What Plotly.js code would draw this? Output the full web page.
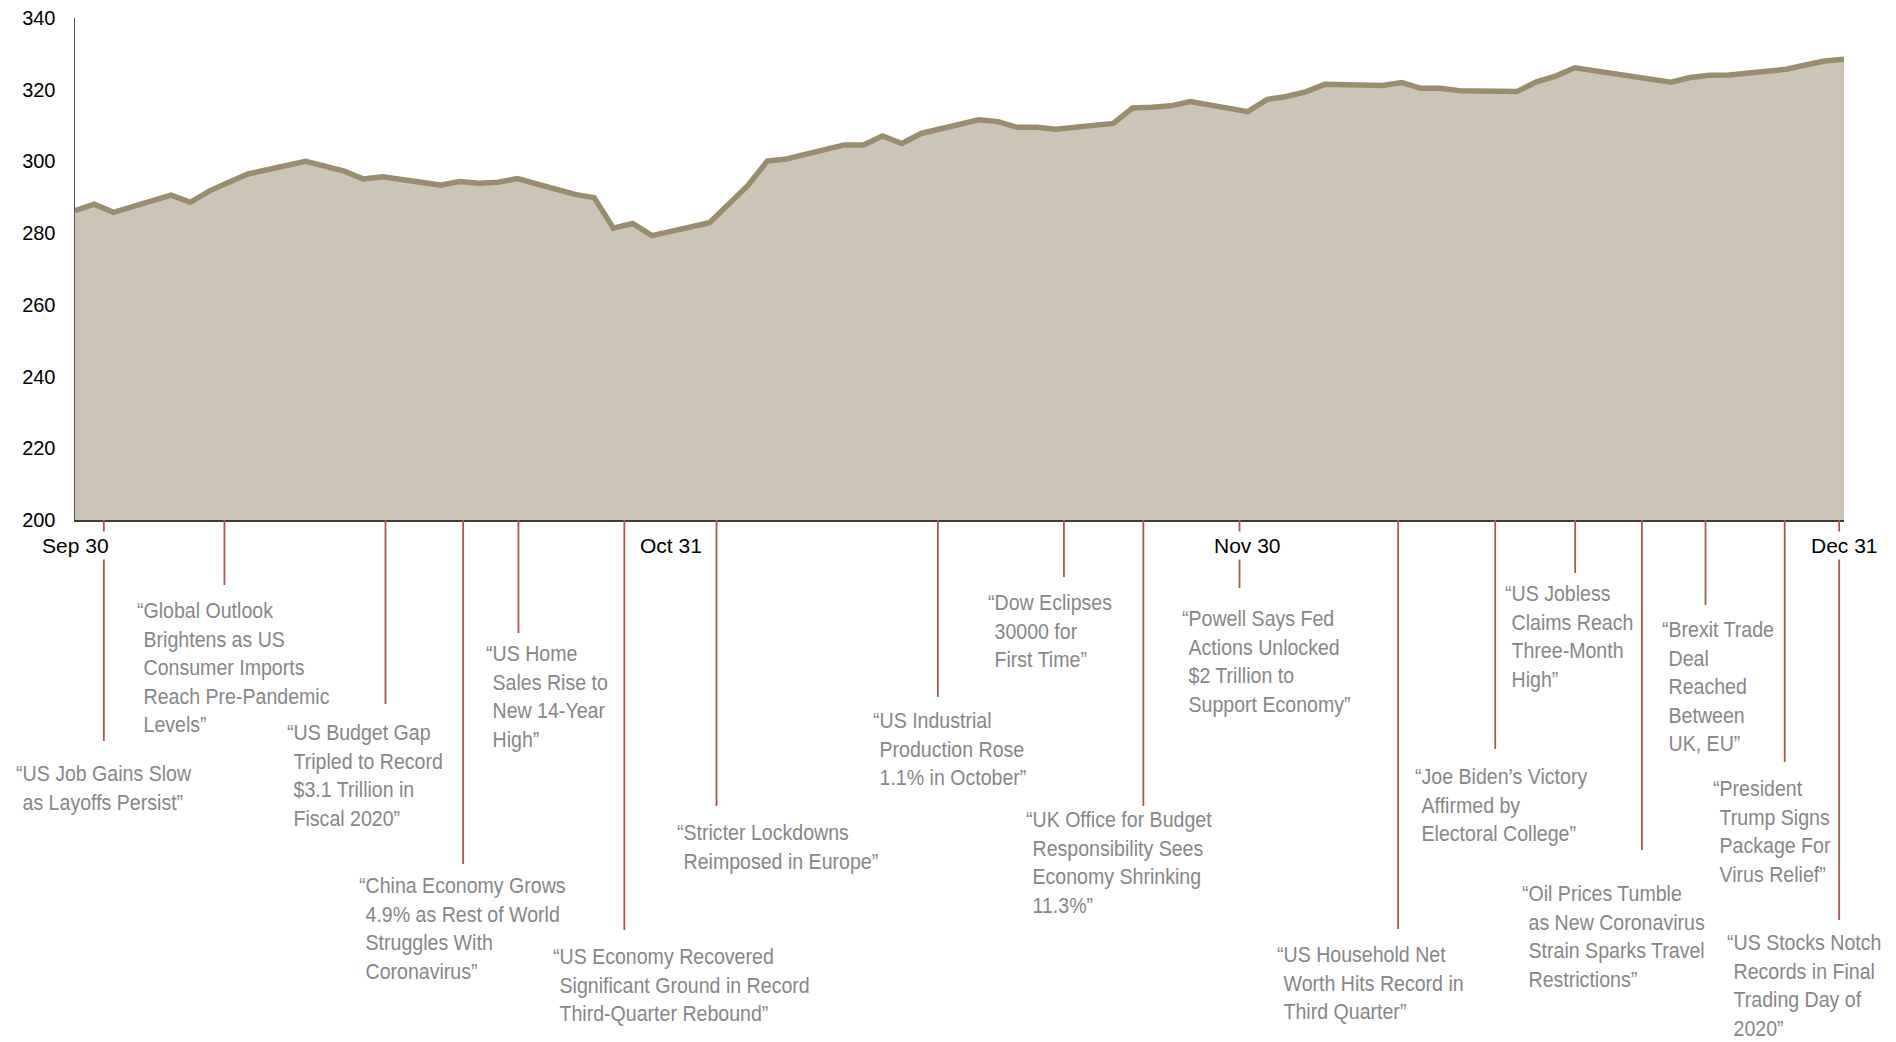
<!DOCTYPE html>
<html>
<head>
<meta charset="utf-8">
<script src="https://cdn.plot.ly/plotly-3.0.1.min.js"></script>
<style>
	html, body { margin: 0; padding: 0; background: #ffffff; }
	#chart { width: 1896px; height: 1042px; }
</style>
</head>
<body>
<div id="chart"></div>
<script>
// Index level, every weekday from Sep 30 to Dec 31 2020
let dates = [
	'2020-09-30',
	'2020-10-01', '2020-10-02', '2020-10-05', '2020-10-06', '2020-10-07', '2020-10-08', '2020-10-09',
	'2020-10-12', '2020-10-13', '2020-10-14', '2020-10-15', '2020-10-16', '2020-10-19', '2020-10-20',
	'2020-10-21', '2020-10-22', '2020-10-23', '2020-10-26', '2020-10-27', '2020-10-28', '2020-10-29',
	'2020-10-30',
	'2020-11-02', '2020-11-03', '2020-11-04', '2020-11-05', '2020-11-06', '2020-11-09', '2020-11-10',
	'2020-11-11', '2020-11-12', '2020-11-13', '2020-11-16', '2020-11-17', '2020-11-18', '2020-11-19',
	'2020-11-20', '2020-11-23', '2020-11-24', '2020-11-25', '2020-11-26', '2020-11-27', '2020-11-30',
	'2020-12-01', '2020-12-02', '2020-12-03', '2020-12-04', '2020-12-07', '2020-12-08', '2020-12-09',
	'2020-12-10', '2020-12-11', '2020-12-14', '2020-12-15', '2020-12-16', '2020-12-17', '2020-12-18',
	'2020-12-21', '2020-12-22', '2020-12-23', '2020-12-24', '2020-12-25', '2020-12-28', '2020-12-29',
	'2020-12-30', '2020-12-31'
]
let levels = [
	286.3,
	288.1, 285.8, 290.6, 288.6, 291.8, 294.2, 296.5,
	300.0, 298.7, 297.3, 295.1, 295.7, 293.4, 294.4,
	293.9, 294.2, 295.2, 290.8, 289.9, 281.4, 282.7,
	279.3,
	282.9, 288.1, 293.3, 300.1, 300.7, 304.6, 304.6,
	307.1, 305.0, 307.8, 311.6, 311.1, 309.5, 309.5,
	309.0, 310.6, 314.9, 315.1, 315.5, 316.7, 313.9,
	317.3, 318.1, 319.4, 321.5, 321.2, 322.0, 320.4,
	320.4, 319.7, 319.5, 322.2, 323.8, 326.1, 325.3,
	322.8, 322.1, 323.4, 324.0, 324.1, 325.7, 326.9,
	328.0, 328.5
]

// x axis labels
let tick_dates = ['2020-09-30', '2020-10-31', '2020-11-30', '2020-12-31']
let tick_labels = ['Sep 30', 'Oct 31', 'Nov 30', 'Dec 31']
let y_ticks = [200, 220, 240, 260, 280, 300, 320, 340]

// Headlines and where their marker lines sit on the time axis
let event_dates = [
	'2020-10-01 12:00', '2020-10-07 18:30', '2020-10-16 03:30', '2020-10-20 04:30',
	'2020-10-23 01:30', '2020-10-28 13:40', '2020-11-02 08:40', '2020-11-13 21:00',
	'2020-11-20 10:20', '2020-11-24 13:30', '2020-11-29 13:30', '2020-12-07 19:30',
	'2020-12-12 20:40', '2020-12-17 00:30', '2020-12-20 11:45', '2020-12-23 19:10',
	'2020-12-27 22:00', '2020-12-30 18:00'
]
let event_headlines = [
	['US Job Gains Slow', 'as Layoffs Persist'],
	['Global Outlook', 'Brightens as US', 'Consumer Imports', 'Reach Pre-Pandemic', 'Levels'],
	['US Budget Gap', 'Tripled to Record', '$3.1 Trillion in', 'Fiscal 2020'],
	['China Economy Grows', '4.9% as Rest of World', 'Struggles With', 'Coronavirus'],
	['US Home', 'Sales Rise to', 'New 14-Year', 'High'],
	['US Economy Recovered', 'Significant Ground in Record', 'Third-Quarter Rebound'],
	['Stricter Lockdowns', 'Reimposed in Europe'],
	['US Industrial', 'Production Rose', '1.1% in October'],
	['Dow Eclipses', '30000 for', 'First Time'],
	['UK Office for Budget', 'Responsibility Sees', 'Economy Shrinking', '11.3%'],
	['Powell Says Fed', 'Actions Unlocked', '$2 Trillion to', 'Support Economy'],
	['US Household Net', 'Worth Hits Record in', 'Third Quarter'],
	['Joe Biden\u2019s Victory', 'Affirmed by', 'Electoral College'],
	['US Jobless', 'Claims Reach', 'Three-Month', 'High'],
	['Oil Prices Tumble', 'as New Coronavirus', 'Strain Sparks Travel', 'Restrictions'],
	['Brexit Trade', 'Deal', 'Reached', 'Between', 'UK, EU'],
	['President', 'Trump Signs', 'Package For', 'Virus Relief'],
	['US Stocks Notch', 'Records in Final', 'Trading Day of', '2020']
]

// layout of the headline blocks (pixels below the axis / from the marker line)
let plot_h = 502
let line_drop = [221, 65, 184, 344, 113, 410, 286, 177, 57, 286, 68, 409, 229, 53, 330, 85, 242, 400]
let text_dx = [-90, -89, -100, -106, -34, -73, -41, -67, -78, -119, -60, -123, -82, -72, -122, -46, -74, -114]
let text_dy = [-239, -76, -198, -351, -119, -422, -298, -186, -68, -285, -84, -420, -242, -59, -359, -95, -254, -408]

let narrow = '"Liberation Sans Narrow", "Arial Narrow", "Liberation Sans", Arial, sans-serif'
let regular = '"Liberation Sans", Arial, sans-serif'
let squeeze = 0.89   // no narrow face installed, so headlines get pressed horizontally
let event_line_color = '#A65A48'
let event_text_color = '#878787'


// Wrap the headline in quote marks, indenting the following lines like hanging punctuation
function format_headline(lines) {
	let out = []
	for (let i = 0; i < lines.length; i++) {
		let txt = lines[i]
		if (i == 0)
			txt = '\u201C' + txt
		else
			txt = '<span style="color:rgba(0,0,0,0)">\u201C</span>' + txt
		if (i == lines.length - 1)
			txt = txt + '\u201D'
		out.push(txt)
	}
	return out.join('<br>')
}


// Narrow the headline text around its own left edge
function squeeze_headlines(gd) {
	for (let i = 0; i < event_dates.length; i++) {
		let g = gd.querySelector('g.annotation[data-index="' + i + '"]')
		if (!g)
			continue
		let txt = g.querySelector('text.annotation-text')
		if (!txt)
			continue
		let box = txt.getBBox()
		let old = txt.getAttribute('transform') || ''
		txt.setAttribute('transform', old + ' translate(' + box.x + ',0) scale(' + squeeze + ',1) translate(' + (-box.x) + ',0)')
	}
}


function show_chart() {

	let trace = {
		type: 'scatter',
		mode: 'lines',
		x: dates,
		y: levels,
		fill: 'tozeroy',
		fillcolor: '#CCC5B7',
		line: {color: '#9A8D6F', width: 5.5},
		hoverinfo: 'skip'
	}

	let shapes = []
	let annotations = []

	for (let i = 0; i < event_dates.length; i++) {
		shapes.push({
			type: 'line',
			xref: 'x', yref: 'paper',
			x0: event_dates[i], x1: event_dates[i],
			y0: 0, y1: -line_drop[i] / plot_h,
			line: {color: event_line_color, width: 1.8}
		})
		annotations.push({
			xref: 'x', yref: 'paper',
			x: event_dates[i], y: 0,
			xanchor: 'left', yanchor: 'top',
			xshift: text_dx[i], yshift: text_dy[i],
			align: 'left',
			showarrow: false,
			text: format_headline(event_headlines[i]),
			font: {family: narrow, size: 22, color: event_text_color}
		})
	}

	// date labels sit on a white box so the marker lines break around them
	for (let i = 0; i < tick_dates.length; i++) {
		annotations.push({
			xref: 'x', yref: 'paper',
			x: tick_dates[i], y: 0,
			xanchor: 'center', yanchor: 'middle',
			yshift: -25,
			showarrow: false,
			bgcolor: '#ffffff',
			borderpad: 2,
			text: tick_labels[i],
			font: {family: regular, size: 21, color: '#000000'}
		})
	}

	let layout = {
		width: 1896,
		height: 1042,
		margin: {l: 75, r: 52, t: 18, b: 522},
		paper_bgcolor: '#ffffff',
		plot_bgcolor: 'rgba(0,0,0,0)',
		showlegend: false,
		xaxis: {
			type: 'date',
			range: ['2020-09-30', '2020-12-31'],
			showgrid: false,
			zeroline: false,
			showticklabels: false,
			ticks: '',
			showline: true,
			linecolor: '#3c3c3c',
			linewidth: 2
		},
		yaxis: {
			range: [200, 340],
			tickvals: y_ticks,
			showgrid: false,
			zeroline: false,
			ticks: '',
			ticklabelstandoff: 14,
			tickfont: {family: regular, size: 20, color: '#000000'},
			showline: true,
			linecolor: '#555555',
			linewidth: 1.5
		},
		shapes: shapes,
		annotations: annotations
	}

	Plotly.newPlot('chart', [trace], layout, {
		displayModeBar: false,
		staticPlot: true
	}).then(squeeze_headlines)
}

show_chart()
</script>
</body>
</html>
